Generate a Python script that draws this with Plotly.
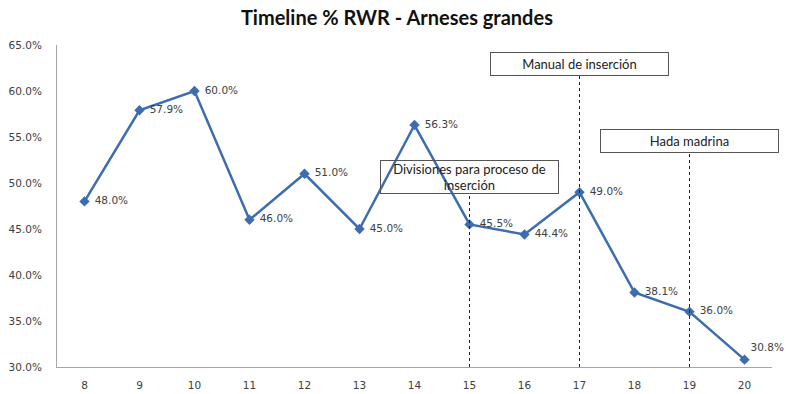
import plotly.graph_objects as go

# Weekly RWR percentage for large harnesses
weeks = [8, 9, 10, 11, 12, 13, 14, 15, 16, 17, 18, 19, 20]
rwr_pct = [48.0, 57.9, 60.0, 46.0, 51.0, 45.0, 56.3, 45.5, 44.4, 49.0, 38.1, 36.0, 30.8]

# Improvement actions marked on the timeline
event_weeks = [15, 17, 19]
event_labels = ["Divisiones para proceso de<br>inserción", "Manual de inserción", "Hada madrina"]
event_label_y = [50.65, 62.93, 54.62]
event_box_h = [34, 24, 24]

y_min, y_max = 30, 65
plot_h = 394 - 45 - 27
px_per_unit = plot_h / (y_max - y_min)

line_color = "#3D6DAE"
text_color = "#404040"
tick_font = dict(family="DejaVu Sans", size=10.5, color=text_color)

label_pos = ["middle right"] * len(weeks)
label_pos[-1] = "top right"
label_text = ["\u2009\u2009" + f"{v:.1f}%" for v in rwr_pct]
label_text[-1] = f"{rwr_pct[-1]:.1f}%"

fig = go.Figure()
fig.add_trace(go.Scatter(
    x=weeks, y=rwr_pct,
    mode="lines+markers+text",
    line=dict(color=line_color, width=2.5),
    marker=dict(symbol="diamond", size=8, color=line_color),
    text=label_text,
    textposition=label_pos,
    textfont=tick_font,
    cliponaxis=False,
    showlegend=False,
))

for wx, lab, ly, bh in zip(event_weeks, event_labels, event_label_y, event_box_h):
    # dotted marker from under the label box down to the axis
    box_bottom = ly - (bh / 2) / px_per_unit
    fig.add_shape(type="line", x0=wx, x1=wx, y0=y_min, y1=box_bottom,
                  xref="x", yref="y",
                  line=dict(color="#222222", width=1, dash="dot"))
    fig.add_annotation(
        x=wx, y=ly, xref="x", yref="y", text=lab, showarrow=False,
        font=dict(family="Lato", size=13, color="#222222"),
        bordercolor="#555555", borderwidth=1, borderpad=2,
        bgcolor="rgba(255,255,255,0)",
        width=173, height=bh - 6, align="center",
    )

fig.update_layout(
    width=786, height=394,
    margin=dict(l=57, r=14, t=45, b=27, autoexpand=False),
    paper_bgcolor="white", plot_bgcolor="white",
    title=dict(text="<b>Timeline % RWR - Arneses grandes</b>",
               x=0.505, xanchor="center", y=0.955, yanchor="middle",
               font=dict(family="Lato", size=20, color="#111111")),
    xaxis=dict(range=[7.5, 20.5], tickvals=weeks, ticktext=[str(w) for w in weeks],
               showgrid=False, zeroline=False, showline=True, linecolor="#A6A6A6",
               linewidth=1, ticks="", ticklabelstandoff=8, tickfont=tick_font,
               automargin=False),
    yaxis=dict(range=[y_min, y_max], tickvals=[30, 35, 40, 45, 50, 55, 60, 65],
               ticktext=[f"{v:.1f}%" for v in [30, 35, 40, 45, 50, 55, 60, 65]],
               showgrid=False, zeroline=False, showline=True, linecolor="#A6A6A6",
               linewidth=1, ticks="", ticklabelstandoff=12, tickfont=tick_font,
               automargin=False),
)

fig.write_html("out.html")
